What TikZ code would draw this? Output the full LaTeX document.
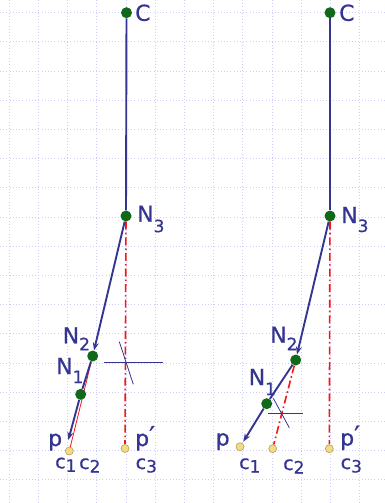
\documentclass[tikz,border=0pt]{standalone}
\usepackage{fontspec}
\setmainfont{DejaVu Sans}
\newfontfamily\labelfont[FakeBold=0.6]{DejaVu Sans}
\usepackage{xcolor}
\definecolor{colVec}{RGB}{52,52,145}
\definecolor{colDot}{RGB}{15,105,25}
\definecolor{colCell}{RGB}{242,218,135}
\definecolor{colCellLine}{RGB}{185,158,80}
\definecolor{colGrid}{RGB}{205,205,250}
\definecolor{colRay}{RGB}{250,20,20}
\usetikzlibrary{arrows.meta, positioning, backgrounds}
\newcommand{\lowsub}[2][-9pt]{\raisebox{#1}{\fontsize{17}{17}\selectfont #2}}
\newcommand{\primemark}{\smash{\raisebox{1pt}{\fontsize{26}{26}\selectfont ′}}}
\tikzset{
  vec/.style={colVec, line width=1.9pt, -{Stealth[length=8pt,width=6pt]}},
  seg/.style={colVec, line width=1.9pt},
  ray/.style={colRay, line width=1.6pt, dash pattern=on 8pt off 3pt on 1.6pt off 3pt},
  cross/.style={colVec, line width=0.8pt},
  nodedot/.style={circle, fill=colDot, inner sep=0pt, minimum size=11pt},
  celldot/.style={circle, fill=colCell, draw=colCellLine, line width=0.6pt, inner sep=0pt, minimum size=8pt},
  lbl/.style={colVec, anchor=base west, inner sep=0pt, font=\labelfont\fontsize{22}{22}\selectfont},
  clbl/.style={colVec, anchor=base west, inner sep=0pt, font=\labelfont\fontsize{19}{19}\selectfont},
}
\begin{document}
\begin{tikzpicture}[x=1pt, y=-1pt]
  \useasboundingbox (0,0) rectangle (385,503);
  % left: N1 and N2 on the way to p
  \node[nodedot] (lC) at (126.5,12.7) {};
  \node[nodedot] (lN3) at (126,216) {};
  \node[nodedot] (lN2) at (92.7,356) {};
  \node[nodedot] (lN1) at (80.7,394.3) {};
  \node[celldot] (lc) at (69.3,451) {};
  \node[celldot] (lpp) at (125,448.5) {};
  \coordinate (lp) at (68.3,440);
  % right
  \node[nodedot] (rC) at (330,12.7) {};
  \node[nodedot] (rN3) at (330,216) {};
  \node[nodedot] (rN2) at (295.7,360) {};
  \node[nodedot] (rN1) at (266.7,403.7) {};
  \node[celldot] (rc1) at (240,446.7) {};
  \node[celldot] (rc2) at (272.7,448.7) {};
  \node[celldot] (rc3) at (329.3,448.7) {};
  \coordinate (rp) at (243.3,441.7);

  \begin{scope}[on background layer]
    \foreach \gx in {0,...,12}
      \draw[colGrid, line width=0.9pt, dash pattern=on 1pt off 2.2pt] (9.3+29.2*\gx,0) -- (9.3+29.2*\gx,503);
    \foreach \gy in {0,...,16}
      \draw[colGrid, line width=0.9pt, dash pattern=on 1pt off 2.2pt] (0,12.7+29.2*\gy) -- (385,12.7+29.2*\gy);
    \draw[ray] (lN3) -- (lpp);
    \draw[colRay, line width=0.8pt] (lN2) -- (lc);
    \draw[seg] (lC) -- (lN3);
    \draw[vec] (lN3) -- (lN2);
    \draw[seg] (lN2) -- (lN1);
    \draw[vec] (lN1) -- (lp);
    \draw[ray] (rN3) -- (rc3);
    \draw[ray] (rN2) -- (rc2);
    \draw[seg] (rC) -- (rN3);
    \draw[vec] (rN3) -- (rN2);
    \draw[seg] (rN2) -- (rN1);
    \draw[vec] (rN1) -- (rp);
  \end{scope}

  \draw[cross] (104.3,362.3) -- (162.7,362.3);
  \draw[cross] (119.3,341.7) -- (133.3,384.3);
  \draw[cross] (268.3,413.3) -- (303.3,413.3);
  \draw[cross] (273.3,398.3) -- (289.3,427.7);

  \node[lbl] (lCl) at (135,20.8) {C};
  \node[lbl] (lN3l) at (137,221.7) {N\lowsub[-10.5pt]{3}};
  \node[lbl] (lN2l) at (62.5,343.3) {N\lowsub[-7pt]{2}};
  \node[lbl] (lN1l) at (56,374) {N\lowsub[-9pt]{1}};
  \node[lbl] (lpl) at (48,446) {p};
  \node[lbl] (lppl) at (135,446) {p\primemark};
  \node[clbl] (lc1l) at (55,468.3) {c\lowsub[-3.5pt]{1}};
  \node[clbl] (lc2l) at (79,469) {c\lowsub[-3.5pt]{2}};
  \node[clbl] (lc3l) at (135.5,469) {c\lowsub[-3.5pt]{3}};

  \node[lbl] (rCl) at (339,20.8) {C};
  \node[lbl] (rN3l) at (341,223) {N\lowsub[-9pt]{3}};
  \node[lbl] (rN2l) at (270,342.7) {N\lowsub[-7.5pt]{2}};
  \node[lbl] (rN1l) at (248.5,385) {N\lowsub[-10pt]{1}};
  \node[lbl] (rpl) at (215.5,445.5) {p};
  \node[lbl] (rppl) at (340,445.5) {p\primemark};
  \node[clbl] (rc1l) at (239,469) {c\lowsub[-3.5pt]{1}};
  \node[clbl] (rc2l) at (283,470) {c\lowsub[-3.5pt]{2}};
  \node[clbl] (rc3l) at (340.5,469) {c\lowsub[-3.5pt]{3}};
\end{tikzpicture}
\end{document}
